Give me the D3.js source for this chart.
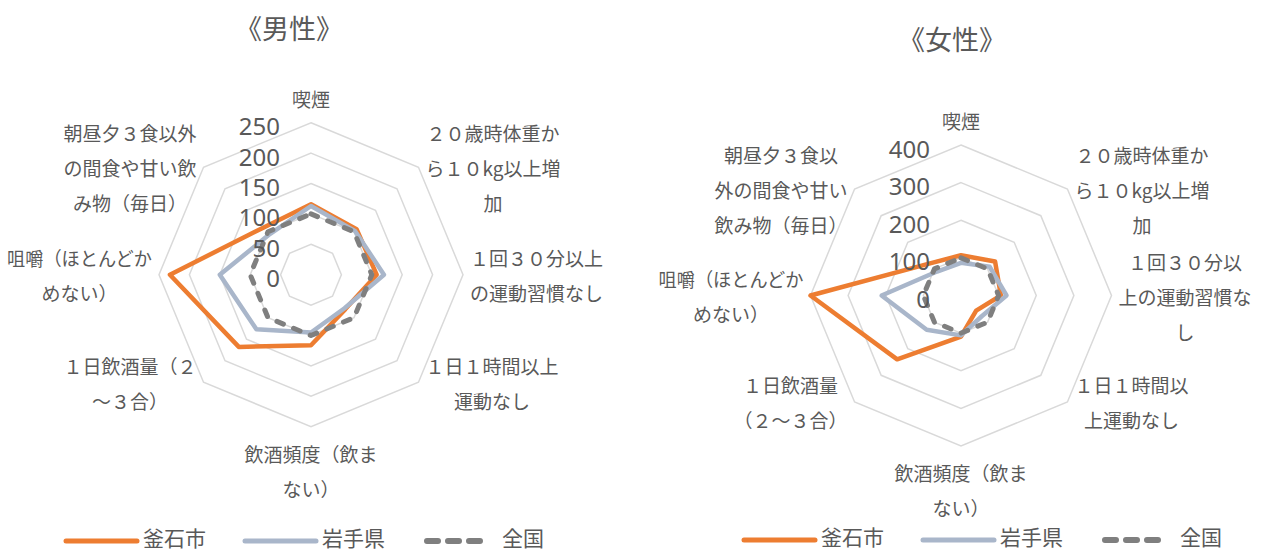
<!DOCTYPE html>
<head>
  <meta charset="utf-8">
  <script src="https://d3js.org/d3.v7.min.js"></script>
  <style>
    body { margin:0; background:#fff; }
    text { font-family:"Noto Sans CJK JP", sans-serif; fill:#595959; }
    .tick { font-family:"Noto Sans", sans-serif; }
  </style>
</head>

<body>
  <script>

    var width = 1275,
        height = 554;

    // axis order: clockwise from top
    var categories = ["喫煙", "２０歳時体重から１０kg以上増加", "１回３０分以上の運動習慣なし",
      "１日１時間以上運動なし", "飲酒頻度（飲まない）", "１日飲酒量（２～３合）",
      "咀嚼（ほとんどかめない）", "朝昼夕３食以外の間食や甘い飲み物（毎日）"];

    // wrapped as in the picture
    var maleLabelLines = [["喫煙"], ["２０歳時体重か", "ら１０kg以上増", "加"], ["１回３０分以上", "の運動習慣なし"],
      ["１日１時間以上", "運動なし"], ["飲酒頻度（飲ま", "ない）"], ["１日飲酒量（２", "～３合）"],
      ["咀嚼（ほとんどか", "めない）"], ["朝昼夕３食以外", "の間食や甘い飲", "み物（毎日）"]];
    var femaleLabelLines = [["喫煙"], ["２０歳時体重か", "ら１０kg以上増", "加"], ["１回３０分以", "上の運動習慣な", "し"],
      ["１日１時間以", "上運動なし"], ["飲酒頻度（飲ま", "ない）"], ["１日飲酒量", "（２～３合）"],
      ["咀嚼（ほとんどか", "めない）"], ["朝昼夕３食以", "外の間食や甘い", "飲み物（毎日）"]];

    var seriesNames = ["釜石市", "岩手県", "全国"];

    var maleKamaishi = [116, 106, 108, 80, 116, 168, 232, 110];
    var maleIwate    = [113, 102, 120, 78, 95, 127, 150, 95];
    var maleZenkoku  = [100, 100, 100, 100, 100, 100, 100, 100];

    var femaleKamaishi = [107, 128, 106, 57, 109, 240, 400, 120];
    var femaleIwate    = [87, 108, 121, 78, 106, 129, 211, 90];
    var femaleZenkoku  = [100, 100, 100, 100, 100, 100, 100, 100];

    var maleTicks = [0, 50, 100, 150, 200, 250];
    var femaleTicks = [0, 100, 200, 300, 400];

    var colors = ["#ED7D31", "#A9B6CA", "#7F7F7F"];

    var svg = d3.select("body").append("svg")
      .attr("width", width)
      .attr("height", height);

    function drawRadar(cx, cy, R, ticks, series, labelLines, title, titleX, titleY) {
      var n = categories.length;
      var r = d3.scaleLinear().domain([0, d3.max(ticks)]).range([0, R]);
      var ang = function(i) { return i * 2 * Math.PI / n; };

      svg.append("text")
        .attr("x", titleX).attr("y", titleY)
        .attr("text-anchor", "middle").attr("dominant-baseline", "central")
        .style("font-size", "27px")
        .text(title);

      var g = svg.append("g").attr("transform", "translate(" + cx + "," + cy + ")");

      // rings
      g.selectAll(".ring").data(ticks.filter(function(t) { return t > 0; })).enter()
        .append("path")
        .attr("class", "ring")
        .attr("d", function(t) {
          return d3.lineRadial().angle(function(d, i) { return ang(i); })
            .radius(r(t)).curve(d3.curveLinearClosed)(categories);
        })
        .attr("fill", "none")
        .attr("stroke", "#D9D9D9")
        .attr("stroke-width", 1.5);

      // series
      var line = d3.lineRadial()
        .angle(function(d, i) { return ang(i); })
        .radius(function(d) { return r(d); })
        .curve(d3.curveLinearClosed);

      g.selectAll(".series").data(series).enter()
        .append("path")
        .attr("class", "series")
        .attr("d", function(d) { return line(d); })
        .attr("fill", "none")
        .attr("stroke", function(d, i) { return colors[i]; })
        .attr("stroke-width", function(d, i) { return i == 2 ? 5 : 4.5; })
        .attr("stroke-linejoin", "round")
        .attr("stroke-linecap", "round")
        .attr("stroke-dasharray", function(d, i) { return i == 2 ? "7,11" : null; });

      // tick labels
      g.selectAll(".tick").data(ticks).enter()
        .append("text")
        .attr("class", "tick")
        .attr("x", -31)
        .attr("y", function(t) { return -r(t) + 3; })
        .attr("text-anchor", "end")
        .attr("dominant-baseline", "central")
        .style("font-size", "24px")
        .text(function(t) { return t; });

      // category labels
      var lh = 35, gap = 7, maxLine = 145;
      labelLines.forEach(function(lines, i) {
        var a = ang(i);
        var vx = R * Math.sin(a), vy = -R * Math.cos(a);
        var t = g.append("text")
          .attr("text-anchor", "middle")
          .attr("dominant-baseline", "central")
          .style("font-size", "19px");
        var spans = t.selectAll("tspan").data(lines).enter().append("tspan").text(function(d) { return d; });
        var maxW = 0;
        spans.each(function() {
          var w = this.getComputedTextLength();
          if (w > maxLine) {
            d3.select(this).attr("textLength", maxLine).attr("lengthAdjust", "spacingAndGlyphs");
            w = maxLine;
          }
          maxW = Math.max(maxW, w);
        });
        var bx, by;
        var s = Math.sin(a), c = Math.cos(a);
        if (Math.abs(s) < 0.01) {
          bx = 0;
          by = c > 0 ? vy - 25 - (lines.length - 1) * lh : vy + 26;
        } else {
          bx = vx + (s > 0 ? 1 : -1) * (gap + maxW / 2);
          by = vy - (lines.length - 1) * lh / 2;
        }
        spans.attr("x", bx).attr("y", function(d, j) { return by + j * lh; });
      });
    }

    drawRadar(311, 274.7, 152, maleTicks, [maleKamaishi, maleIwate, maleZenkoku], maleLabelLines, "《男性》", 289, 27);
    drawRadar(961, 295.5, 150.5, femaleTicks, [femaleKamaishi, femaleIwate, femaleZenkoku], femaleLabelLines, "《女性》", 952, 38);

    function drawLegend(x0, y) {
      var offsets = [0, 179, 358];
      var lg = svg.append("g");
      seriesNames.forEach(function(name, i) {
        var x = x0 + offsets[i];
        lg.append("line")
          .attr("x1", i == 2 ? x + 3 : x).attr("x2", i == 2 ? x + 62 : x + 71)
          .attr("y1", y).attr("y2", y)
          .attr("stroke", colors[i])
          .attr("stroke-width", i == 2 ? 6 : 5)
          .attr("stroke-linecap", "round")
          .attr("stroke-dasharray", i == 2 ? "11,10" : null);
        lg.append("text")
          .attr("x", x + (i == 2 ? 78 : 77)).attr("y", y - 4)
          .attr("dominant-baseline", "central")
          .style("font-size", "21px")
          .text(name);
      });
    }

    drawLegend(66, 541);
    drawLegend(744, 540);

  </script>
</body>
